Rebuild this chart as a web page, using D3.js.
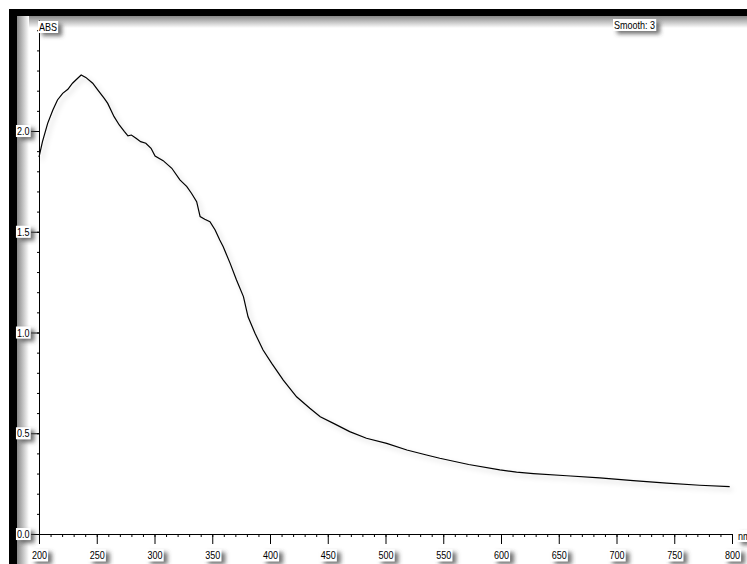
<!DOCTYPE html>
<html>
<head>
<meta charset="utf-8">
<script src="https://cdn.jsdelivr.net/npm/d3@7"></script>
<style>
  body { margin: 0; background: white; }
  text { font-family: "Liberation Sans", Arial, sans-serif; fill: black; }
</style>
</head>
<body>
<script>
// Spectrum values
const wavelength = [200, 203, 207.5, 212, 216, 220.5, 225, 229, 233.5, 236.5, 240.5, 246.5, 251, 256.5, 259.5,
    265, 269.5, 274, 277, 280, 284, 288, 292.5, 297, 300.5, 307.5, 315, 322, 328, 332, 336.5, 339.5, 343.5,
    348, 352.5, 356.5, 359.5, 365.5, 371, 377, 381, 387, 394, 401.5, 411.5, 423, 434.5, 443.5, 455, 469,
    483.5, 501, 518.5, 535.5, 547, 572, 599, 613.5, 628, 657, 685.5, 714.5, 743.5, 772, 798];
const absorbance = [1.87, 1.947, 2.038, 2.104, 2.154, 2.187, 2.207, 2.237, 2.262, 2.278, 2.266, 2.237, 2.203, 2.162, 2.137,
    2.071, 2.030, 1.997, 1.976, 1.980, 1.964, 1.947, 1.939, 1.914, 1.876, 1.853, 1.815, 1.757, 1.724, 1.691, 1.649, 1.575, 1.562,
    1.550, 1.509, 1.459, 1.426, 1.343, 1.261, 1.178, 1.078, 0.996, 0.913, 0.847, 0.764, 0.681, 0.624, 0.582, 0.549, 0.508,
    0.475, 0.450, 0.417, 0.392, 0.376, 0.345, 0.318, 0.307, 0.300, 0.289, 0.279, 0.265, 0.252, 0.242, 0.235];
const xTicks = [200, 250, 300, 350, 400, 450, 500, 550, 600, 650, 700, 750, 800];
const yTicks = [0.0, 0.5, 1.0, 1.5, 2.0];
const yLabel = "ABS";
const xUnit = "nm";
const smoothNote = "Smooth: 3";

const data = wavelength.map((w, i) => ({ w: w, a: absorbance[i] }));

const outerWidth = 747, outerHeight = 564;

const svg = d3.select("body").append("svg")
    .attr("width", outerWidth)
    .attr("height", outerHeight)
    .style("display", "block")
    .style("background", "white");

// Shadow filters
const defs = svg.append("defs");
const boxShadow = defs.append("filter").attr("id", "boxShadow")
    .attr("x", "-50%").attr("y", "-50%").attr("width", "220%").attr("height", "220%");
boxShadow.append("feDropShadow")
    .attr("dx", 4).attr("dy", 3).attr("stdDeviation", 2.2)
    .attr("flood-color", "#444").attr("flood-opacity", 0.75);

const lineShadow = defs.append("filter").attr("id", "lineShadow")
    .attr("x", "-10%").attr("y", "-10%").attr("width", "120%").attr("height", "120%");
lineShadow.append("feDropShadow")
    .attr("dx", 3).attr("dy", 3).attr("stdDeviation", 2.5)
    .attr("flood-color", "#000").attr("flood-opacity", 0.22);

const topGrad = defs.append("linearGradient").attr("id", "topGrad")
    .attr("x1", 0).attr("y1", 0).attr("x2", 0).attr("y2", 1);
topGrad.append("stop").attr("offset", "0%").attr("stop-color", "#888");
topGrad.append("stop").attr("offset", "100%").attr("stop-color", "#fff");
const leftGrad = defs.append("linearGradient").attr("id", "leftGrad")
    .attr("x1", 0).attr("y1", 0).attr("x2", 1).attr("y2", 0);
leftGrad.append("stop").attr("offset", "0%").attr("stop-color", "#888");
leftGrad.append("stop").attr("offset", "100%").attr("stop-color", "#fff");

// Frame: thick black bands on top and left, with soft shadows
svg.append("rect").attr("x", 17).attr("y", 16).attr("width", 730).attr("height", 12).attr("fill", "url(#topGrad)");
svg.append("rect").attr("x", 17).attr("y", 16).attr("width", 12).attr("height", 548).attr("fill", "url(#leftGrad)");
svg.append("rect").attr("x", 9).attr("y", 9).attr("width", 738).attr("height", 7).attr("fill", "black");
svg.append("rect").attr("x", 9).attr("y", 9).attr("width", 8).attr("height", 555).attr("fill", "black");

// Scales
const xScale = d3.scaleLinear().domain([200, 800]).range([39, 732]);
const yScale = d3.scaleLinear().domain([0, 2.55]).range([534, 534 - 2.55 * 201.5]);

// Minor ticks
svg.append("g")
    .attr("transform", "translate(0,534)")
    .call(d3.axisBottom(xScale).tickValues(d3.range(200, 801, 10)).tickSize(3).tickSizeOuter(0).tickFormat(""));
svg.append("g")
    .attr("transform", "translate(39,0)")
    .call(d3.axisLeft(yScale).tickValues(d3.range(0, 26).map(d => d / 10)).tickSize(2).tickSizeOuter(0).tickFormat(""));

// Major ticks with labels
const xAxisGroup = svg.append("g")
    .attr("transform", "translate(0,534)")
    .call(d3.axisBottom(xScale).tickValues(xTicks).tickSize(10).tickPadding(7.5).tickSizeOuter(0).tickFormat(d3.format("d")));
const yAxisGroup = svg.append("g")
    .attr("transform", "translate(39,0)")
    .call(d3.axisLeft(yScale).tickValues(yTicks).tickSize(8).tickPadding(1.5).tickSizeOuter(0).tickFormat(d3.format(".1f")));

svg.selectAll(".tick line, .domain").attr("stroke", "black");
svg.selectAll(".tick text").style("font-size", "11px").attr("fill", "black");

// Curve
const line = d3.line()
    .x(d => xScale(d.w))
    .y(d => yScale(d.a));

svg.append("path")
    .datum(data)
    .attr("fill", "none")
    .attr("stroke", "black")
    .attr("stroke-width", 1.2)
    .attr("filter", "url(#lineShadow)")
    .attr("d", line);

// Extra labels
const labels = svg.append("g");
labels.append("text").attr("x", 39).attr("y", 31).text(yLabel).style("font-size", "11px");
labels.append("text").attr("x", 614).attr("y", 29).text(smoothNote).style("font-size", "11px");
labels.append("text").attr("x", 738).attr("y", 540).text(xUnit).style("font-size", "11px");

// Narrow lettering, then white boxes with shadows behind every label
svg.selectAll("text").each(function() {
    const w = this.getComputedTextLength();
    d3.select(this).attr("textLength", w * 0.82).attr("lengthAdjust", "spacingAndGlyphs");
});
svg.selectAll("text").each(function() {
    const b = this.getBBox();
    d3.select(this.parentNode).insert("rect", () => this)
        .attr("x", b.x - 1)
        .attr("y", b.y)
        .attr("width", b.width + 2)
        .attr("height", b.height)
        .attr("fill", "white")
        .attr("filter", "url(#boxShadow)");
});
</script>
</body>
</html>
